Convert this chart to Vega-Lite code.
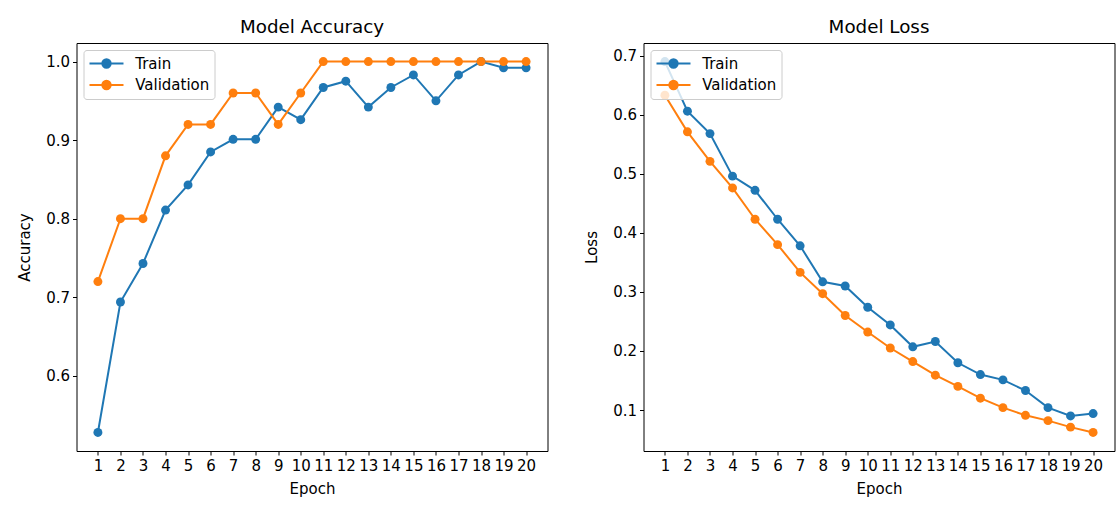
{
  "$schema": "https://vega.github.io/schema/vega-lite/v6.json",
  "padding": {"left": 16.5, "top": 17, "right": 5, "bottom": 5},
  "background": "white",
  "spacing": 96,
  "bounds": "flush",
  "config": {
    "font": "DejaVu Sans",
    "view": {"stroke": "black", "strokeWidth": 1},
    "axis": {
      "domain": false, "grid": false, "tickColor": "black", "tickSize": 4, "tickWidth": 1,
      "labelFont": "DejaVu Sans", "labelFontSize": 15, "labelColor": "black", "labelPadding": 3,
      "titleFont": "DejaVu Sans", "titleFontSize": 15, "titleFontWeight": "normal", "titleColor": "black"
    },
    "axisY": {"titlePadding": 13},
    "axisX": {"titlePadding": 8},
    "title": {"font": "DejaVu Sans", "fontSize": 18.3, "fontWeight": "normal", "color": "black", "offset": 6},
    "legend": {
      "orient": "top-left", "offset": 7, "padding": 5, "title": null,
      "fillColor": "rgba(255,255,255,0.8)", "strokeColor": "#cccccc", "cornerRadius": 3,
      "labelFont": "DejaVu Sans", "labelFontSize": 15, "labelColor": "black", "labelOffset": 29.7,
      "symbolType": "M -1 0 L 3.533 0 M 1.827 0 A 0.56 0.56 0 1 1 0.707 0 A 0.56 0.56 0 1 1 1.827 0 Z",
      "symbolSize": 225, "symbolStrokeWidth": 2, "rowPadding": 4.5
    }
  },
  "data": {"values": [
    {"epoch": 1, "series": "Train", "accuracy": 0.528, "loss": 0.690},
    {"epoch": 2, "series": "Train", "accuracy": 0.694, "loss": 0.606},
    {"epoch": 3, "series": "Train", "accuracy": 0.743, "loss": 0.568},
    {"epoch": 4, "series": "Train", "accuracy": 0.811, "loss": 0.496},
    {"epoch": 5, "series": "Train", "accuracy": 0.843, "loss": 0.472},
    {"epoch": 6, "series": "Train", "accuracy": 0.885, "loss": 0.423},
    {"epoch": 7, "series": "Train", "accuracy": 0.901, "loss": 0.378},
    {"epoch": 8, "series": "Train", "accuracy": 0.901, "loss": 0.317},
    {"epoch": 9, "series": "Train", "accuracy": 0.942, "loss": 0.310},
    {"epoch": 10, "series": "Train", "accuracy": 0.926, "loss": 0.274},
    {"epoch": 11, "series": "Train", "accuracy": 0.967, "loss": 0.244},
    {"epoch": 12, "series": "Train", "accuracy": 0.975, "loss": 0.207},
    {"epoch": 13, "series": "Train", "accuracy": 0.942, "loss": 0.216},
    {"epoch": 14, "series": "Train", "accuracy": 0.967, "loss": 0.180},
    {"epoch": 15, "series": "Train", "accuracy": 0.983, "loss": 0.160},
    {"epoch": 16, "series": "Train", "accuracy": 0.950, "loss": 0.151},
    {"epoch": 17, "series": "Train", "accuracy": 0.983, "loss": 0.133},
    {"epoch": 18, "series": "Train", "accuracy": 1.0, "loss": 0.104},
    {"epoch": 19, "series": "Train", "accuracy": 0.992, "loss": 0.090},
    {"epoch": 20, "series": "Train", "accuracy": 0.992, "loss": 0.094},
    {"epoch": 1, "series": "Validation", "accuracy": 0.72, "loss": 0.633},
    {"epoch": 2, "series": "Validation", "accuracy": 0.80, "loss": 0.571},
    {"epoch": 3, "series": "Validation", "accuracy": 0.80, "loss": 0.521},
    {"epoch": 4, "series": "Validation", "accuracy": 0.88, "loss": 0.476},
    {"epoch": 5, "series": "Validation", "accuracy": 0.92, "loss": 0.423},
    {"epoch": 6, "series": "Validation", "accuracy": 0.92, "loss": 0.380},
    {"epoch": 7, "series": "Validation", "accuracy": 0.96, "loss": 0.333},
    {"epoch": 8, "series": "Validation", "accuracy": 0.96, "loss": 0.297},
    {"epoch": 9, "series": "Validation", "accuracy": 0.92, "loss": 0.260},
    {"epoch": 10, "series": "Validation", "accuracy": 0.96, "loss": 0.232},
    {"epoch": 11, "series": "Validation", "accuracy": 1.0, "loss": 0.205},
    {"epoch": 12, "series": "Validation", "accuracy": 1.0, "loss": 0.182},
    {"epoch": 13, "series": "Validation", "accuracy": 1.0, "loss": 0.159},
    {"epoch": 14, "series": "Validation", "accuracy": 1.0, "loss": 0.140},
    {"epoch": 15, "series": "Validation", "accuracy": 1.0, "loss": 0.120},
    {"epoch": 16, "series": "Validation", "accuracy": 1.0, "loss": 0.104},
    {"epoch": 17, "series": "Validation", "accuracy": 1.0, "loss": 0.091},
    {"epoch": 18, "series": "Validation", "accuracy": 1.0, "loss": 0.082},
    {"epoch": 19, "series": "Validation", "accuracy": 1.0, "loss": 0.071},
    {"epoch": 20, "series": "Validation", "accuracy": 1.0, "loss": 0.062}
  ]},
  "resolve": {"legend": {"color": "independent"}},
  "hconcat": [
    {
      "title": "Model Accuracy",
      "width": 471, "height": 408,
      "encoding": {
        "x": {"field": "epoch", "type": "quantitative", "title": "Epoch",
              "scale": {"domain": [0.05, 20.95], "nice": false, "zero": false},
              "axis": {"values": [1,2,3,4,5,6,7,8,9,10,11,12,13,14,15,16,17,18,19,20], "format": "d", "labelFlush": false, "labelOverlap": false}},
        "y": {"field": "accuracy", "type": "quantitative", "title": "Accuracy",
              "scale": {"domain": [0.5044, 1.0236], "nice": false, "zero": false},
              "axis": {"values": [0.6, 0.7, 0.8, 0.9, 1.0], "format": ".1f", "labelFlush": false}},
        "color": {"field": "series", "type": "nominal",
                  "scale": {"domain": ["Train", "Validation"], "range": ["#1f77b4", "#ff7f0e"]}}
      },
      "layer": [
        {"mark": {"type": "line", "strokeWidth": 2}},
        {"mark": {"type": "point", "filled": true, "size": 80, "opacity": 1}}
      ]
    },
    {
      "title": "Model Loss",
      "width": 471, "height": 408,
      "encoding": {
        "x": {"field": "epoch", "type": "quantitative", "title": "Epoch",
              "scale": {"domain": [0.05, 20.95], "nice": false, "zero": false},
              "axis": {"values": [1,2,3,4,5,6,7,8,9,10,11,12,13,14,15,16,17,18,19,20], "format": "d", "labelFlush": false, "labelOverlap": false}},
        "y": {"field": "loss", "type": "quantitative", "title": "Loss",
              "scale": {"domain": [0.0306, 0.7214], "nice": false, "zero": false},
              "axis": {"values": [0.1, 0.2, 0.3, 0.4, 0.5, 0.6, 0.7], "format": ".1f", "labelFlush": false}},
        "color": {"field": "series", "type": "nominal",
                  "scale": {"domain": ["Train", "Validation"], "range": ["#1f77b4", "#ff7f0e"]}}
      },
      "layer": [
        {"mark": {"type": "line", "strokeWidth": 2}},
        {"mark": {"type": "point", "filled": true, "size": 80, "opacity": 1}}
      ]
    }
  ]
}
